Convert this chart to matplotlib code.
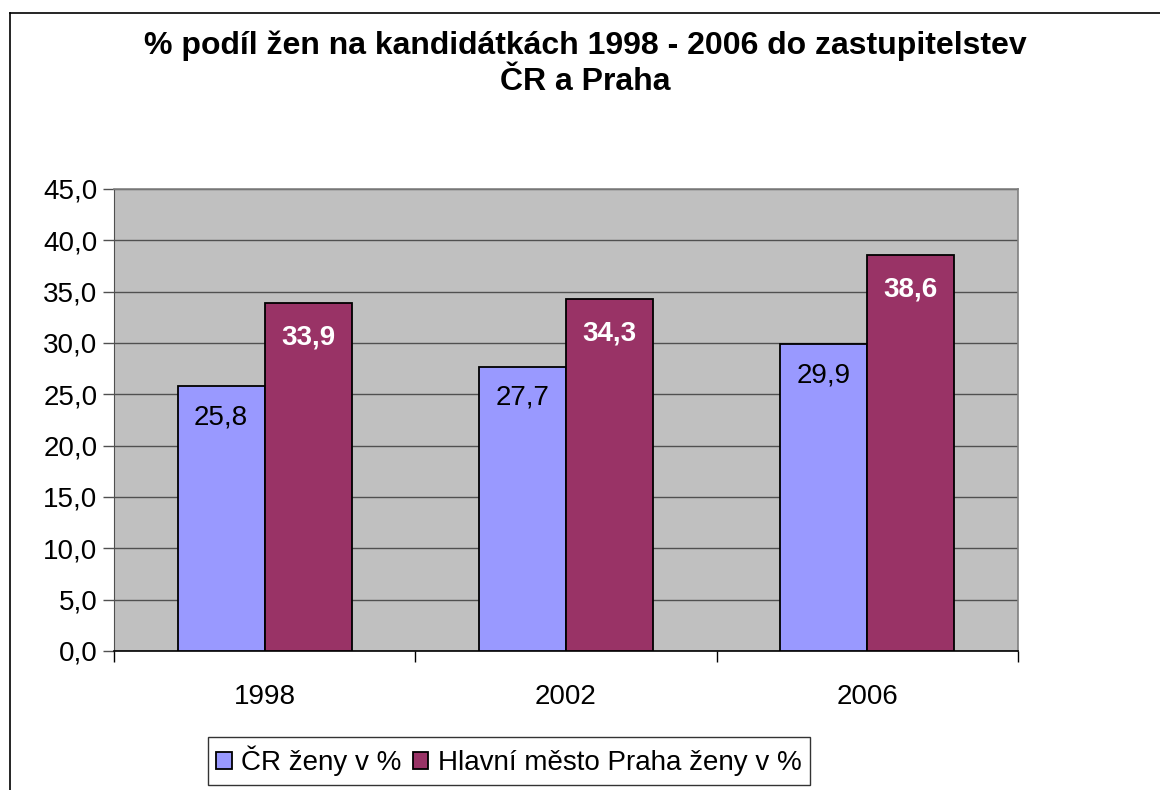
import matplotlib
matplotlib.use("Agg")
import matplotlib.pyplot as plt
from matplotlib.lines import Line2D
import numpy as np

plt.rcParams['font.family'] = ['Liberation Sans', 'DejaVu Sans']

years = ["1998", "2002", "2006"]
cr_values = [25.8, 27.7, 29.9]
praha_values = [33.9, 34.3, 38.6]
series_names = ["ČR ženy v %", "Hlavní město Praha ženy v %"]
title = "% podíl žen na kandidátkách 1998 - 2006 do zastupitelstev\nČR a Praha"
yticks = [0, 5, 10, 15, 20, 25, 30, 35, 40, 45]

W, H = 1160, 790
fig = plt.figure(figsize=(W / 100, H / 100), dpi=100)
fig.patch.set_facecolor("white")

# figure border (top and left visible; right/bottom cropped)
fig.add_artist(Line2D([10 / W, 10 / W], [0, 1 - 13 / H], transform=fig.transFigure, color="black", lw=1.2))
fig.add_artist(Line2D([10 / W, 1.0], [1 - 13 / H, 1 - 13 / H], transform=fig.transFigure, color="black", lw=1.2))

ax = fig.add_axes([114 / W, 1 - 651 / H, (1018 - 114) / W, (651 - 189) / H])
ax.set_facecolor("#C0C0C0")

x = np.arange(len(years))
bw = 87 / 301
b1 = ax.bar(x - bw / 2, cr_values, bw, color="#9999FF", edgecolor="black", linewidth=1.3, zorder=3)
b2 = ax.bar(x + bw / 2, praha_values, bw, color="#993366", edgecolor="black", linewidth=1.3, zorder=3)

for rect, v in zip(b1, cr_values):
    ax.annotate(f"{v:.1f}".replace(".", ","), (rect.get_x() + rect.get_width() / 2, v),
                xytext=(0, -22.5), textcoords="offset points", ha="center", va="center",
                fontsize=20, color="black", zorder=4)
for rect, v in zip(b2, praha_values):
    ax.annotate(f"{v:.1f}".replace(".", ","), (rect.get_x() + rect.get_width() / 2, v),
                xytext=(0, -25), textcoords="offset points", ha="center", va="center",
                fontsize=20, color="white", fontweight="bold", zorder=4)

ax.set_xlim(-0.5, 2.5)
ax.set_ylim(0, 45)
ax.set_yticks(yticks)
ax.set_yticklabels([f"{t:.1f}".replace(".", ",") for t in yticks], fontsize=20)
ax.yaxis.grid(True, color="#505050", linewidth=1.0, zorder=1)
ax.set_axisbelow(True)

ax.set_xticks(x)
ax.set_xticklabels(years, fontsize=20)
ax.tick_params(axis="x", length=0, pad=24)
ax.set_xticks([-0.5, 0.5, 1.5, 2.5], minor=True)
ax.tick_params(axis="x", which="minor", length=8, direction="out", color="black", width=1)
ax.tick_params(axis="y", length=8, direction="out", color="#505050", width=1, pad=4)

for s in ["top", "right"]:
    ax.spines[s].set_color("#808080")
    ax.spines[s].set_linewidth(1.2)
ax.spines["left"].set_color("#505050")
ax.spines["bottom"].set_color("black")
ax.spines["bottom"].set_linewidth(1.2)

fig.text(585 / W, 1 - 64 / H, title, ha="center", va="center", fontsize=23,
         fontweight="bold", linespacing=1.28)

leg = fig.legend([b1, b2], series_names, loc="center", bbox_to_anchor=(509 / W, 1 - 761 / H),
                 ncol=2, fontsize=20, frameon=True, fancybox=False, edgecolor="black",
                 handlelength=0.55, handleheight=0.55, handletextpad=0.35, columnspacing=0.4,
                 borderpad=0.3, borderaxespad=0)
leg.get_frame().set_linewidth(1.0)

fig.savefig("out.png", dpi=100)
